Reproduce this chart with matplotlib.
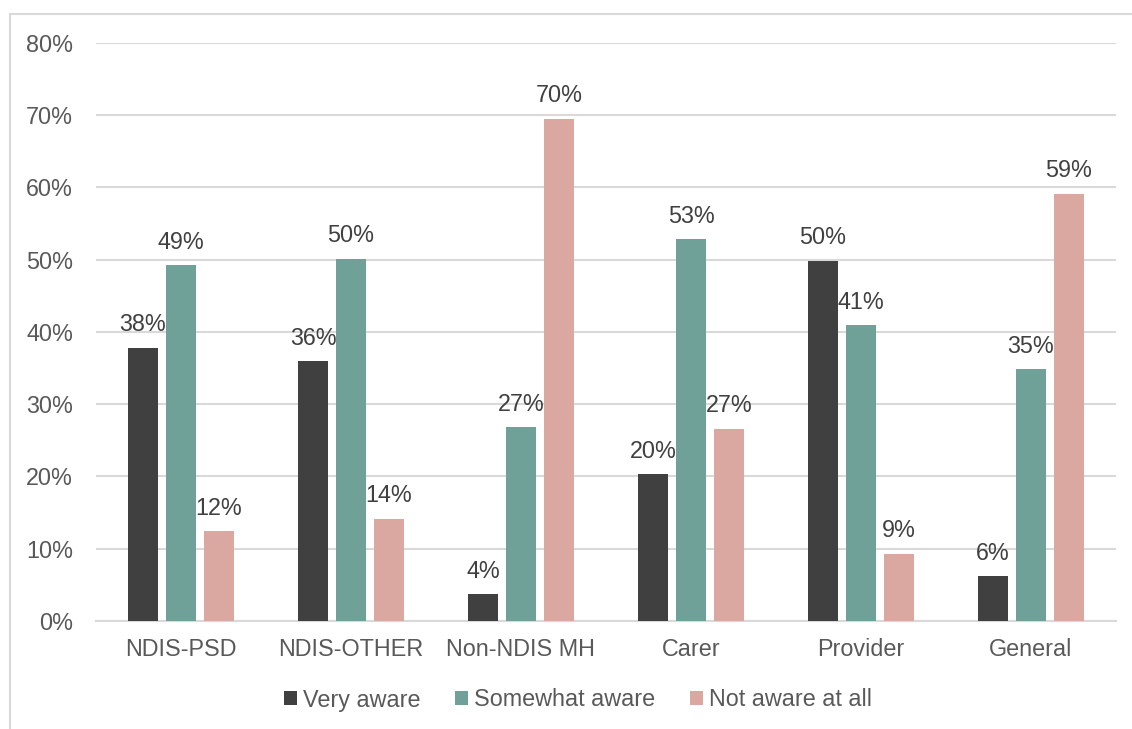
import matplotlib
matplotlib.use("Agg")
import matplotlib.pyplot as plt
from matplotlib.patches import Rectangle
from matplotlib.ticker import PercentFormatter
import numpy as np

plt.rcParams['font.family'] = ['Liberation Sans', 'DejaVu Sans']

categories = ["NDIS-PSD", "NDIS-OTHER", "Non-NDIS MH", "Carer", "Provider", "General"]
very_aware = [37.8, 35.9, 3.7, 20.3, 49.8, 6.2]
somewhat_aware = [49.2, 50.1, 26.8, 52.8, 40.9, 34.8]
not_aware = [12.4, 14.1, 69.5, 26.6, 9.3, 59.1]
series_names = ["Very aware", "Somewhat aware", "Not aware at all"]
colors = ["#404040", "#70A199", "#DAA7A1"]
yticks = [0, 10, 20, 30, 40, 50, 60, 70, 80]

W, H, DPI = 1132, 729, 100
fig = plt.figure(figsize=(W / DPI, H / DPI), dpi=DPI)
ax = fig.add_axes([96 / W, 1 - 621 / H, 1020 / W, (621 - 42.7) / H])

# thin frame around the chart area
fig.patches.append(Rectangle((9.5 / W, -0.05), 1.2, 1 - 13.5 / H + 0.05,
                             transform=fig.transFigure, fill=False,
                             edgecolor="#D9D9D9", linewidth=1.5))

FS = 16.8
x = np.arange(len(categories))
bw = 30 / 170
step = 38 / 170
for i, (vals, name, c) in enumerate(zip([very_aware, somewhat_aware, not_aware],
                                        series_names, colors)):
    pos = x + (i - 1) * step
    bars = ax.bar(pos, vals, width=bw, color=c, label=name, zorder=3)
    for b, v in zip(bars, vals):
        ax.annotate(f"{round(v)}%", (b.get_x() + b.get_width() / 2, v),
                    xytext=(0, 12), textcoords="offset points",
                    ha="center", va="baseline", fontsize=FS, color="#404040",
                    zorder=4)

ax.set_xlim(-0.5, len(categories) - 0.5)
ax.set_ylim(0, 80)
ax.set_yticks(yticks)
ax.yaxis.set_major_formatter(PercentFormatter(decimals=0))
ax.set_xticks(x)
ax.set_xticklabels(categories)
ax.tick_params(axis="both", length=0, labelsize=FS, labelcolor="#595959")
ax.tick_params(axis="y", pad=16.5)
ax.tick_params(axis="x", pad=12)
ax.grid(axis="y", color="#D9D9D9", linewidth=1.5, zorder=0)
for s in ["left", "right", "top"]:
    ax.spines[s].set_visible(False)
ax.spines["bottom"].set_color("#D9D9D9")
ax.spines["bottom"].set_linewidth(1.5)

leg = fig.legend(loc="center", bbox_to_anchor=(578 / W, 1 - 700 / H), ncol=3,
                 frameon=False, fontsize=FS, handlelength=0.55, handleheight=0.55,
                 handletextpad=0.25, columnspacing=1.5, labelcolor="#595959")

fig.savefig("out.png", dpi=DPI, facecolor="white")
